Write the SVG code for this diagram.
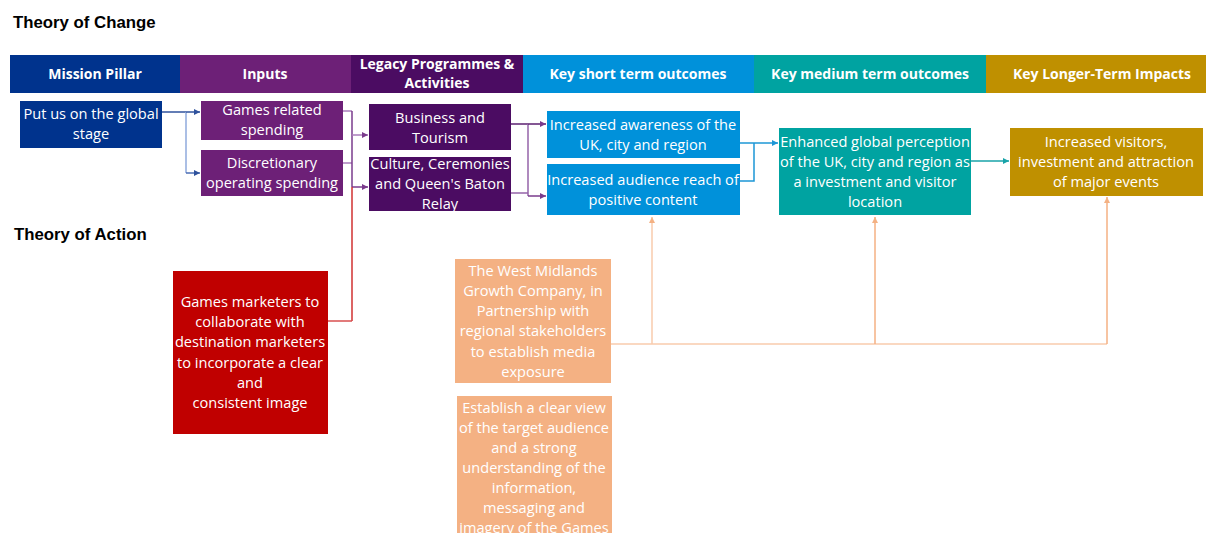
<svg xmlns="http://www.w3.org/2000/svg" width="1206" height="533" viewBox="0 0 1206 533">
  <style>
    .title { font-family: "Liberation Sans", Arial, sans-serif; font-weight: bold; font-size: 16.8px; fill: #000; }
    .hdr { font-family: "Open Sans", "Liberation Sans", sans-serif; font-weight: bold; font-size: 14px; fill: #fff; text-anchor: middle; }
    .lbl { font-family: "Open Sans", "Liberation Sans", sans-serif; font-size: 14.6px; fill: #fff; text-anchor: middle; }
    .ln { fill: none; stroke-width: 1.5; }
  </style>
  <defs>
    <marker id="ahBlue" viewBox="0 0 10 10" refX="10" refY="5" markerWidth="6" markerHeight="6" markerUnits="userSpaceOnUse" orient="auto">
      <path d="M0,0 L10,5 L0,10 z" fill="#2F529C"/>
    </marker>
    <marker id="ahPurple" viewBox="0 0 10 10" refX="10" refY="5" markerWidth="6" markerHeight="6" markerUnits="userSpaceOnUse" orient="auto">
      <path d="M0,0 L10,5 L0,10 z" fill="#7A3B8C"/>
    </marker>
    <marker id="ahSky" viewBox="0 0 10 10" refX="10" refY="5" markerWidth="6" markerHeight="6" markerUnits="userSpaceOnUse" orient="auto">
      <path d="M0,0 L10,5 L0,10 z" fill="#1C97D6"/>
    </marker>
    <marker id="ahTeal" viewBox="0 0 10 10" refX="10" refY="5" markerWidth="6" markerHeight="6" markerUnits="userSpaceOnUse" orient="auto">
      <path d="M0,0 L10,5 L0,10 z" fill="#18A3A8"/>
    </marker>
    <marker id="ahPeach" viewBox="0 0 10 10" refX="10" refY="5" markerWidth="6" markerHeight="6" markerUnits="userSpaceOnUse" orient="auto">
      <path d="M0,0 L10,5 L0,10 z" fill="#F4B183"/>
    </marker>
  </defs>

  <rect width="1206" height="533" fill="#fff"/>

  <!-- section titles -->
  <text class="title" x="13" y="28">Theory of Change</text>
  <text class="title" x="14" y="240">Theory of Action</text>

  <!-- column header bar -->
  <g id="header">
    <rect x="10" y="55" width="170" height="38" fill="#00338D"/>
    <rect x="180" y="55" width="171" height="38" fill="#6D2077"/>
    <rect x="351" y="55" width="172" height="38" fill="#4B0C62"/>
    <rect x="523" y="55" width="231" height="38" fill="#0091DA"/>
    <rect x="754" y="55" width="232" height="38" fill="#00A3A1"/>
    <rect x="986" y="55" width="220" height="38" fill="#BF9000"/>
    <text class="hdr" x="95" y="79">Mission Pillar</text>
    <text class="hdr" x="265" y="79">Inputs</text>
    <text class="hdr" x="437" y="69">Legacy Programmes &amp;</text>
    <text class="hdr" x="437" y="88">Activities</text>
    <text class="hdr" x="638" y="79">Key short term outcomes</text>
    <text class="hdr" x="870" y="79">Key medium term outcomes</text>
    <text class="hdr" x="1102" y="79">Key Longer-Term Impacts</text>
  </g>

  <!-- connectors -->
  <g id="connectors">
    <!-- mission pillar to inputs -->
    <path class="ln" d="M162,112 H186" stroke="#2F529C"/>
    <path class="ln" d="M186,112 V173" stroke="#8FAADC"/>
    <path class="ln" d="M186,112 H200" stroke="#2F529C" marker-end="url(#ahBlue)"/>
    <path class="ln" d="M186,173 H200" stroke="#4A6DB5" marker-end="url(#ahBlue)"/>
    <!-- inputs to legacy programmes -->
    <path class="ln" d="M343,111 H352" stroke="#A97BBA"/>
    <path class="ln" d="M343,163 H352" stroke="#A97BBA"/>
    <path class="ln" d="M352,111 V187" stroke="#7A3B8C"/>
    <path class="ln" d="M352,135 H368" stroke="#A97BBA" marker-end="url(#ahPurple)"/>
    <path class="ln" d="M352,187 H368" stroke="#7A3B8C" marker-end="url(#ahPurple)"/>
    <!-- games marketers join -->
    <path class="ln" d="M352,187 V321" stroke="#D03030"/>
    <path class="ln" d="M352,321 H328" stroke="#D84F4F"/>
    <!-- legacy programmes to short term outcomes -->
    <path class="ln" d="M511,124 H528" stroke="#5B1F70"/>
    <path class="ln" d="M511,193 H528" stroke="#9563A8"/>
    <path class="ln" d="M528,124 V196" stroke="#9563A8"/>
    <path class="ln" d="M528,124 H546" stroke="#5B1F70" marker-end="url(#ahPurple)"/>
    <path class="ln" d="M528,196 H546" stroke="#7A3B8C" marker-end="url(#ahPurple)"/>
    <!-- short term to medium term -->
    <path class="ln" d="M740,143 H778" stroke="#1C97D6" marker-end="url(#ahSky)"/>
    <path class="ln" d="M740,181 H754 V143" stroke="#1C97D6"/>
    <!-- medium term to longer term -->
    <path class="ln" d="M971,161 H1009" stroke="#18A3A8" marker-end="url(#ahTeal)"/>
    <!-- media exposure feeding outcomes -->
    <path class="ln" d="M611,344 H1107" stroke="#F8CBAD"/>
    <path class="ln" d="M652,344 V217" stroke="#F8CBAD" marker-end="url(#ahPeach)"/>
    <path class="ln" d="M875,344 V217" stroke="#F4B183" marker-end="url(#ahPeach)"/>
    <path class="ln" d="M1107,344 V197" stroke="#F4B183" marker-end="url(#ahPeach)"/>
  </g>

  <g id="mission">
    <rect x="20" y="101" width="142" height="47" fill="#00338D"/>
    <text class="lbl" x="91" y="119">Put us on the global</text>
    <text class="lbl" x="91" y="139">stage</text>
  </g>

  <g id="games-spending">
    <rect x="201" y="101" width="142" height="39" fill="#6D2077"/>
    <text class="lbl" x="272" y="115">Games related</text>
    <text class="lbl" x="272" y="135">spending</text>
  </g>

  <g id="discretionary">
    <rect x="201" y="150" width="142" height="46" fill="#6D2077"/>
    <text class="lbl" x="272" y="168">Discretionary</text>
    <text class="lbl" x="272" y="188">operating spending</text>
  </g>

  <g id="business">
    <rect x="369" y="104" width="142" height="46" fill="#4B0C62"/>
    <text class="lbl" x="440" y="123">Business and</text>
    <text class="lbl" x="440" y="143">Tourism</text>
  </g>

  <g id="culture">
    <rect x="369" y="157" width="142" height="54" fill="#4B0C62"/>
    <text class="lbl" x="440" y="169">Culture, Ceremonies</text>
    <text class="lbl" x="440" y="189">and Queen's Baton</text>
    <text class="lbl" x="440" y="209">Relay</text>
  </g>

  <g id="awareness">
    <rect x="547" y="111" width="193" height="47" fill="#0091DA"/>
    <text class="lbl" x="643" y="130">Increased awareness of the</text>
    <text class="lbl" x="643" y="150">UK, city and region</text>
  </g>

  <g id="audience">
    <rect x="547" y="164" width="193" height="51" fill="#0091DA"/>
    <text class="lbl" x="643" y="185">Increased audience reach of</text>
    <text class="lbl" x="643" y="205">positive content</text>
  </g>

  <g id="perception">
    <rect x="779" y="128" width="192" height="87" fill="#00A3A1"/>
    <text class="lbl" x="875" y="147">Enhanced global perception</text>
    <text class="lbl" x="875" y="167">of the UK, city and region as</text>
    <text class="lbl" x="875" y="187">a investment and visitor</text>
    <text class="lbl" x="875" y="207">location</text>
  </g>

  <g id="visitors">
    <rect x="1010" y="128" width="193" height="68" fill="#BF9000"/>
    <text class="lbl" x="1106" y="147">Increased visitors,</text>
    <text class="lbl" x="1106" y="167">investment and attraction</text>
    <text class="lbl" x="1106" y="187">of major events</text>
  </g>

  <g id="marketers">
    <rect x="173" y="271" width="155" height="163" fill="#C00000"/>
    <text class="lbl" x="250" y="307">Games marketers to</text>
    <text class="lbl" x="250" y="327">collaborate with</text>
    <text class="lbl" x="250" y="347">destination marketers</text>
    <text class="lbl" x="250" y="368">to incorporate a clear</text>
    <text class="lbl" x="250" y="388">and</text>
    <text class="lbl" x="250" y="408">consistent image</text>
  </g>

  <g id="growth-company">
    <rect x="455" y="259" width="156" height="124" fill="#F4B183"/>
    <text class="lbl" x="533" y="276">The West Midlands</text>
    <text class="lbl" x="533" y="296">Growth Company, in</text>
    <text class="lbl" x="533" y="316">Partnership with</text>
    <text class="lbl" x="533" y="336">regional stakeholders</text>
    <text class="lbl" x="533" y="357">to establish media</text>
    <text class="lbl" x="533" y="377">exposure</text>
  </g>

  <g id="target-audience">
    <rect x="457" y="396" width="155" height="140" fill="#F4B183"/>
    <text class="lbl" x="534" y="413">Establish a clear view</text>
    <text class="lbl" x="534" y="433">of the target audience</text>
    <text class="lbl" x="534" y="453">and a strong</text>
    <text class="lbl" x="534" y="473">understanding of the</text>
    <text class="lbl" x="534" y="493">information,</text>
    <text class="lbl" x="534" y="513">messaging and</text>
    <text class="lbl" x="534" y="533">imagery of the Games</text>
  </g>
</svg>
